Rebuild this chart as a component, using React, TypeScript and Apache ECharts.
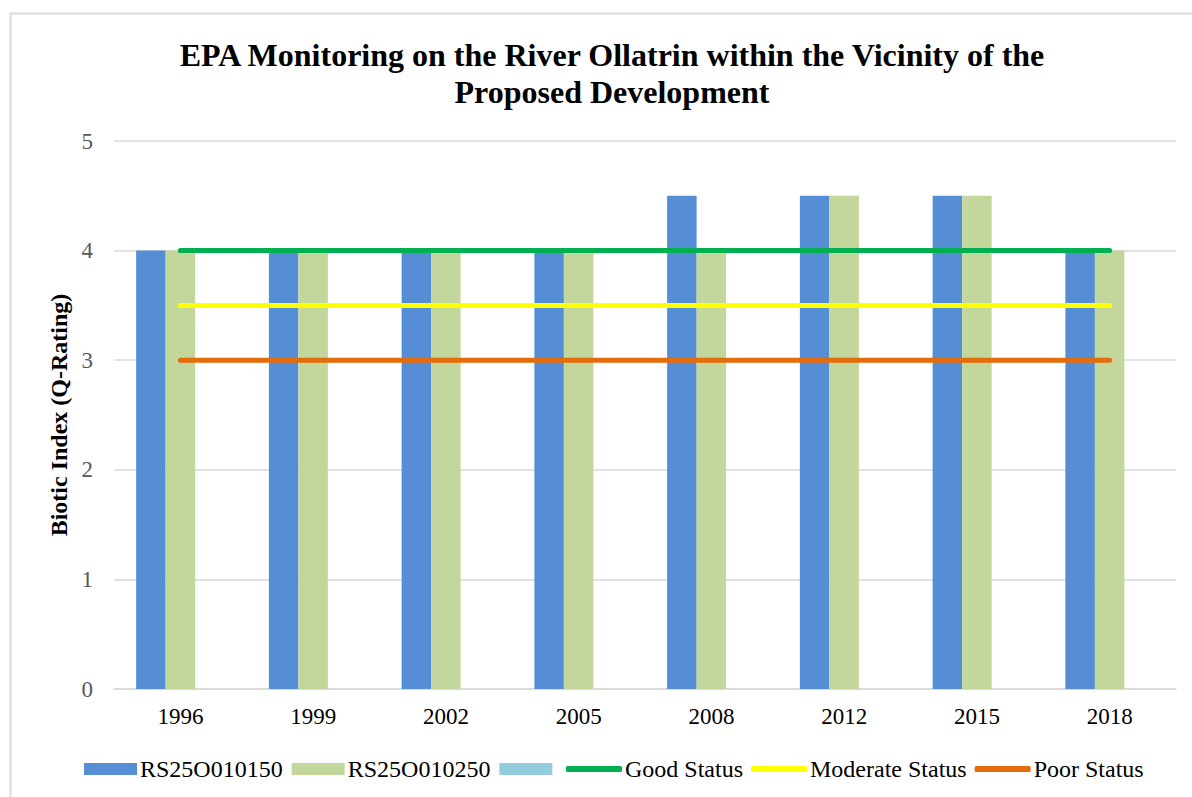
import React, { useEffect, useRef } from "react";
import * as echarts from "echarts";

const years = ["1996", "1999", "2002", "2005", "2008", "2012", "2015", "2018"];
const rs150 = [4, 4, 4, 4, 4.5, 4.5, 4.5, 4];
const rs250 = [4, 4, 4, 4, 4, 4.5, 4.5, 4];
const emptySeries = [null, null, null, null, null, null, null, null];
const goodStatus = [4, 4, 4, 4, 4, 4, 4, 4];
const moderateStatus = [3.5, 3.5, 3.5, 3.5, 3.5, 3.5, 3.5, 3.5];
const poorStatus = [3, 3, 3, 3, 3, 3, 3, 3];

const FONT = "Liberation Serif";

export default function App() {
  const ref = useRef<HTMLDivElement>(null);
  useEffect(() => {
    if (!ref.current) return;
    const chart = echarts.init(ref.current, undefined, { renderer: "svg" });
    const lineSeries = (name: string, data: number[], color: string) => ({
      name,
      type: "line",
      data,
      symbol: "none",
      z: 5,
      lineStyle: { color, width: 5, cap: "round" },
      itemStyle: { color },
    });
    chart.setOption({
      animation: false,
      backgroundColor: "#ffffff",
      textStyle: { fontFamily: FONT },
      graphic: [
        {
          type: "rect",
          shape: { x: 10.5, y: 13.5, width: 1200, height: 800 },
          style: { fill: "none", stroke: "#d9d9d9", lineWidth: 2 },
          silent: true,
        },
      ],
      title: {
        text: "EPA Monitoring on the River Ollatrin within the Vicinity of the\nProposed Development",
        left: 607,
        textAlign: "center",
        top: 31,
        textStyle: {
          fontFamily: FONT,
          fontSize: 32,
          fontWeight: "bold",
          color: "#000000",
          lineHeight: 37,
        },
      },
      grid: { left: 114, right: 16, top: 141, bottom: 108 },
      legend: [
        {
          left: 79,
          top: 752,
          itemWidth: 53,
          itemHeight: 12,
          itemGap: 9,
          icon: "rect",
          data: ["RS25O010150", "RS25O010250", " "],
          textStyle: { fontFamily: FONT, fontSize: 24, color: "#000000", padding: [0, 0, 0, -2] },
        },
        {
          left: 561,
          top: 752,
          itemWidth: 56,
          itemHeight: 6,
          itemGap: 8,
          icon: "roundRect",
          data: ["Good Status", "Moderate Status", "Poor Status"],
          textStyle: { fontFamily: FONT, fontSize: 24, color: "#000000", padding: [0, 0, 0, -2] },
        },
      ],
      xAxis: {
        type: "category",
        data: years,
        axisLine: { lineStyle: { color: "#d9d9d9", width: 1.5 } },
        axisTick: { show: false },
        axisLabel: { fontFamily: FONT, fontSize: 23, color: "#000000", margin: 16 },
      },
      yAxis: {
        type: "value",
        min: 0,
        max: 5,
        interval: 1,
        name: "Biotic Index (Q-Rating)",
        nameLocation: "middle",
        nameGap: 42,
        nameRotate: 90,
        nameTextStyle: { fontFamily: FONT, fontSize: 24, fontWeight: "bold", color: "#000000" },
        axisLine: { show: false },
        axisTick: { show: false },
        splitLine: { lineStyle: { color: "#d9d9d9", width: 1.5 } },
        axisLabel: { fontFamily: FONT, fontSize: 23, color: "#595959", margin: 21 },
      },
      series: [
        {
          name: "RS25O010150",
          type: "bar",
          data: rs150,
          barWidth: 29.5,
          barGap: "0%",
          itemStyle: { color: "#558ED5" },
        },
        {
          name: "RS25O010250",
          type: "bar",
          data: rs250,
          barWidth: 29.5,
          barGap: "0%",
          itemStyle: { color: "#C3D69B" },
        },
        {
          name: " ",
          type: "bar",
          data: emptySeries,
          barWidth: 29.5,
          barGap: "0%",
          itemStyle: { color: "#93CDDD" },
        },
        lineSeries("Good Status", goodStatus, "#00B050"),
        lineSeries("Moderate Status", moderateStatus, "#FFFF00"),
        lineSeries("Poor Status", poorStatus, "#E46C0A"),
      ],
    });
    return () => chart.dispose();
  }, []);
  return (
    <div
      ref={ref}
      style={{ position: "fixed", left: 0, top: 0, width: 1192, height: 797 }}
    />
  );
}
